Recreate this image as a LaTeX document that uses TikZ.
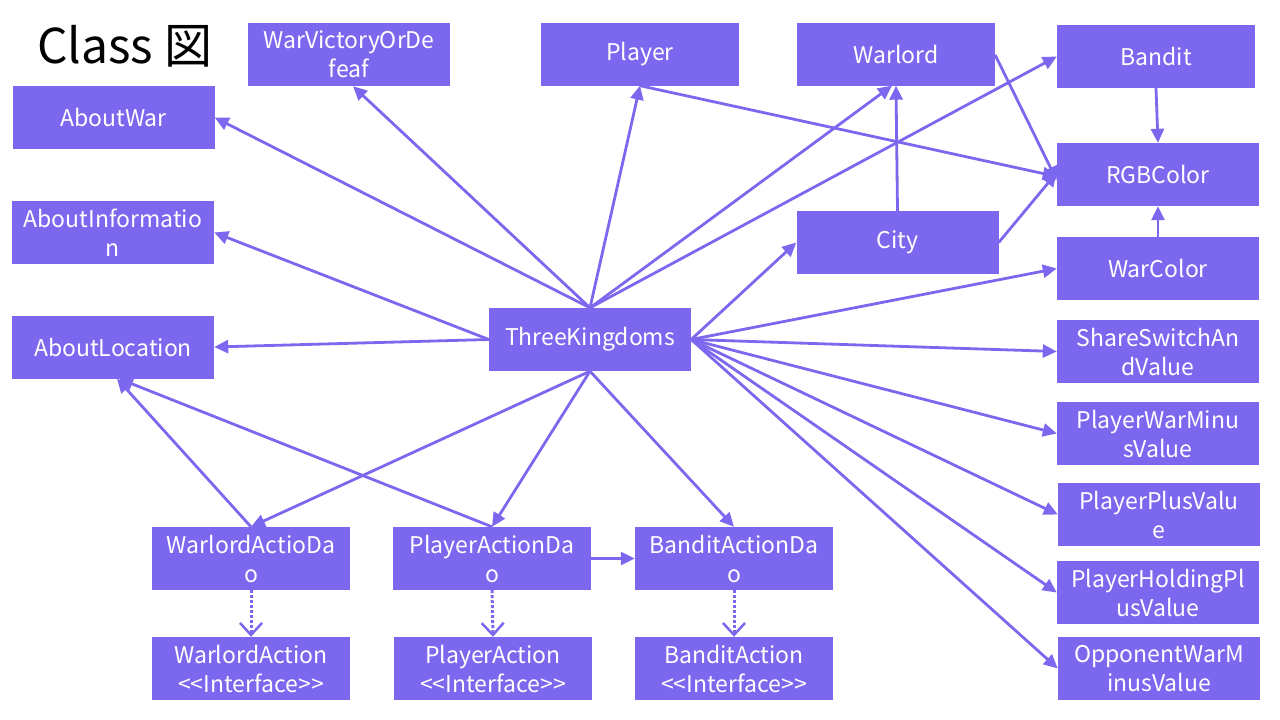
\documentclass[tikz,border=0pt]{standalone}
\usepackage{fontspec}
\setmainfont{Noto Sans CJK JP}
\usetikzlibrary{arrows.meta}
\definecolor{cls}{HTML}{7B68EE}
\begin{document}
\begin{tikzpicture}[x=1pt,y=-1pt,
 box/.style={fill=cls,text=white,minimum width=202pt,minimum height=63pt,inner sep=0pt,align=center,font=\fontsize{23}{29}\selectfont},
 nbox/.style={box,minimum width=198pt},
 dep/.style={draw=cls,line width=2.8pt,-{Triangle[length=14pt,width=13pt]}},
 impl/.style={draw=cls,line width=3pt,dash pattern=on 3pt off 2pt,-{Straight Barb[length=12pt,width=22pt,line width=2.5pt]}}]
\useasboundingbox (0,0) rectangle (1280,720);
\node[anchor=west,inner sep=0pt,font=\fontsize{48}{56}\selectfont] (title) at (37,46) {Class 図};

\node[box] (wvd) at (349,54.5) {WarVictoryOrDe\\feaf};
\node[box] (aw) at (113.5,117.5) {AboutWar};
\node[nbox] (player) at (640,54) {Player};
\node[nbox] (warlord) at (896,54) {Warlord};
\node[nbox] (bandit) at (1156,56.5) {Bandit};
\node[box] (rgb) at (1158,174.5) {RGBColor};
\node[box] (city) at (897.5,242.5) {City};
\node[box] (warcolor) at (1158,268.5) {WarColor};
\node[box] (ainfo) at (113,232.5) {AboutInformatio\\n};
\node[box] (aloc) at (113,347) {AboutLocation};
\node[box] (tk) at (590,339.5) {ThreeKingdoms};
\node[box] (ss) at (1158,351.5) {ShareSwitchAn\\dValue};
\node[box] (pwm) at (1158,433.5) {PlayerWarMinu\\sValue};
\node[box] (ppv) at (1159,514.5) {PlayerPlusValu\\e};
\node[box] (phpv) at (1158,592.5) {PlayerHoldingPl\\usValue};
\node[box] (owmv) at (1159,668.5) {OpponentWarM\\inusValue};
\node[nbox] (wad) at (251,558.5) {WarlordActioDa\\o};
\node[nbox] (pad) at (492,558.5) {PlayerActionDa\\o};
\node[nbox] (bad) at (734,558.5) {BanditActionDa\\o};
\node[nbox] (wa) at (251,668.5) {WarlordAction\\<{}<Interface>{}>};
\node[nbox] (pa) at (493,668.5) {PlayerAction\\<{}<Interface>{}>};
\node[nbox] (ba) at (734,668.5) {BanditAction\\<{}<Interface>{}>};

% from ThreeKingdoms top
\draw[dep] (tk.north) -- (aw.east);
\draw[dep] (tk.north) -- ([xshift=4pt]wvd.south);
\draw[dep] (tk.north) -- (player.south);
\draw[dep] (tk.north) -- ([xshift=-4pt]warlord.south);
\draw[dep] (tk.north) -- (bandit.west);
% left
\draw[dep] (tk.west) -- (ainfo.east);
\draw[dep] (tk.west) -- (aloc.east);
% right
\draw[dep] (tk.east) -- (city.west);
\draw[dep] (tk.east) -- (warcolor.west);
\draw[dep] (tk.east) -- (ss.west);
\draw[dep] (tk.east) -- (pwm.west);
\draw[dep] (tk.east) -- (ppv.west);
\draw[dep] (tk.east) -- (phpv.west);
\draw[dep] (tk.east) -- (owmv.west);
% bottom
\draw[dep] (tk.south) -- (wad.north);
\draw[dep] (tk.south) -- (pad.north);
\draw[dep] (tk.south) -- (bad.north);
\draw[dep] (wad.north) -- ([xshift=4pt]aloc.south);
\draw[dep] (pad.north) -- ([xshift=6pt]aloc.south);
\draw[dep] (pad.east) -- (bad.west);
% implementations
\draw[impl] (wad.south) -- (wa.north);
\draw[impl] (pad.south) -- (pa.north);
\draw[impl] (bad.south) -- (ba.north);
% colours
\draw[dep] (player.south) -- ([yshift=-2pt]rgb.west);
\draw[dep] ([yshift=-1pt]warlord.east) -- ([yshift=-6pt]rgb.west);
\draw[dep] (city.east) -- ([yshift=2pt]rgb.west);
\draw[dep] (city.north) -- (warlord.south);
\draw[dep] (bandit.south) -- (rgb.north);
\draw[dep] (warcolor.north) -- (rgb.south);
\end{tikzpicture}
\end{document}
